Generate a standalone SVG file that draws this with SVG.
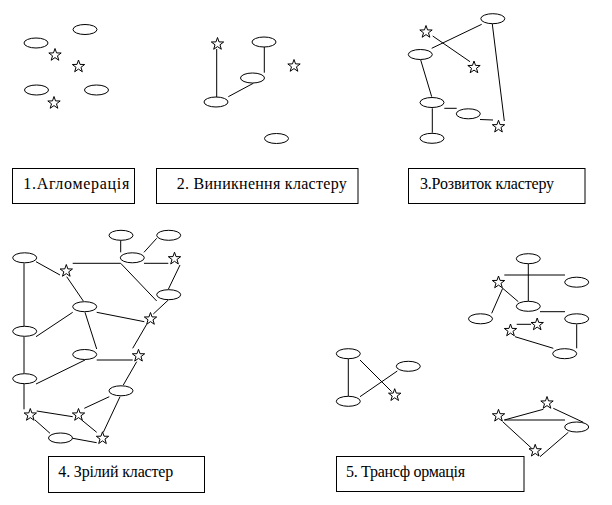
<svg xmlns="http://www.w3.org/2000/svg" xmlns:xlink="http://www.w3.org/1999/xlink" width="612" height="505" viewBox="0 0 612 505">
<style>
.e{fill:#fff;stroke:#000;stroke-width:1}
.s{fill:#fff;stroke:#000;stroke-width:1}
.c line{stroke:#000;stroke-width:1}
.b{fill:#fff;stroke:#000;stroke-width:1}
.t{font-family:'Liberation Serif','Times New Roman','DejaVu Serif',serif;font-size:16px;fill:#000}
</style>
<defs>
<path id="star" d="M0,-6.5 L1.53,-2.1 L6.18,-2.01 L2.47,0.8 L3.82,5.26 L0,2.6 L-3.82,5.26 L-2.47,0.8 L-6.18,-2.01 L-1.53,-2.1 Z"/>
</defs>
<rect width="612" height="505" fill="#fff"/>

<g id="connectors" class="c">
<line x1="216.7" y1="49" x2="216.7" y2="97"/>
<line x1="264.3" y1="47" x2="264.3" y2="72.7"/>
<line x1="228.3" y1="96.7" x2="253.3" y2="83.3"/>
<line x1="431.7" y1="48.3" x2="481.7" y2="24.3"/>
<line x1="432.7" y1="36" x2="470" y2="61.7"/>
<line x1="420.7" y1="60" x2="431.7" y2="96.7"/>
<line x1="432.3" y1="108.3" x2="432.3" y2="132.7"/>
<line x1="444.3" y1="108.3" x2="456.7" y2="108.3"/>
<line x1="480" y1="119.5" x2="493" y2="120"/>
<line x1="492.3" y1="24" x2="504.3" y2="121"/>
<line x1="120.7" y1="240.7" x2="120.7" y2="252.3"/>
<line x1="156.7" y1="238.3" x2="144" y2="252.3"/>
<line x1="72.7" y1="263.3" x2="120.7" y2="263.3"/>
<line x1="144" y1="263.3" x2="168.3" y2="263.3"/>
<line x1="36" y1="261.7" x2="60" y2="275"/>
<line x1="24" y1="263.3" x2="24" y2="326"/>
<line x1="120.7" y1="263.3" x2="156.7" y2="301"/>
<line x1="180" y1="265" x2="168.3" y2="289.3"/>
<line x1="66.7" y1="276.7" x2="83.3" y2="301"/>
<line x1="168.3" y1="300" x2="153.3" y2="314"/>
<line x1="72.7" y1="312.3" x2="36" y2="336.7"/>
<line x1="96.7" y1="312.3" x2="144.3" y2="321.7"/>
<line x1="85" y1="312.3" x2="96.7" y2="349"/>
<line x1="146.7" y1="324.3" x2="132.7" y2="348.3"/>
<line x1="24" y1="336.7" x2="24" y2="373.3"/>
<line x1="96.7" y1="360" x2="132.7" y2="360"/>
<line x1="85" y1="360" x2="36" y2="384"/>
<line x1="136.7" y1="361.7" x2="123.3" y2="385"/>
<line x1="24" y1="384" x2="24" y2="409.3"/>
<line x1="109.3" y1="396.7" x2="84.3" y2="408.3"/>
<line x1="120" y1="396.7" x2="103.3" y2="432.3"/>
<line x1="36.7" y1="411" x2="72.7" y2="416.7"/>
<line x1="35" y1="420" x2="50" y2="433.3"/>
<line x1="81.7" y1="420" x2="96.7" y2="432.3"/>
<line x1="72.7" y1="438.3" x2="96.7" y2="442.7"/>
<line x1="528.3" y1="264" x2="528.3" y2="301"/>
<line x1="504.3" y1="275" x2="565" y2="275"/>
<line x1="502.7" y1="288.3" x2="518.3" y2="301.7"/>
<line x1="502.7" y1="288.3" x2="491.7" y2="313.3"/>
<line x1="540" y1="311.7" x2="565" y2="311.7"/>
<line x1="516.7" y1="324.3" x2="531" y2="324.3"/>
<line x1="576.7" y1="324.3" x2="576.7" y2="348.3"/>
<line x1="515" y1="336.7" x2="553.3" y2="348.3"/>
<line x1="348.3" y1="359" x2="348.3" y2="396"/>
<line x1="360" y1="360" x2="391.7" y2="391.7"/>
<line x1="360" y1="396.7" x2="397.3" y2="371"/>
<line x1="504.3" y1="420" x2="543.3" y2="409.3"/>
<line x1="504.3" y1="420" x2="565" y2="420"/>
<line x1="553.3" y1="408.3" x2="583.3" y2="422.3"/>
<line x1="502.7" y1="421.7" x2="531.7" y2="448.3"/>
<line x1="568.3" y1="432.3" x2="540" y2="456.7"/>
</g>

<g id="p1e1"><ellipse class="e" cx="85" cy="29.5" rx="12" ry="5"/></g>
<g id="p1e2"><ellipse class="e" cx="36" cy="43" rx="12" ry="5"/></g>
<g id="p1s1"><use href="#star" xlink:href="#star" class="s" x="55" y="55"/></g>
<g id="p1s2"><use href="#star" xlink:href="#star" class="s" x="78.5" y="66.5"/></g>
<g id="p1e3"><ellipse class="e" cx="36.5" cy="90" rx="12" ry="5"/></g>
<g id="p1e4"><ellipse class="e" cx="96.5" cy="90" rx="12" ry="5"/></g>
<g id="p1s3"><use href="#star" xlink:href="#star" class="s" x="54" y="103"/></g>

<g id="p2s1"><use href="#star" xlink:href="#star" class="s" x="217.5" y="44"/></g>
<g id="p2e1"><ellipse class="e" cx="264" cy="42" rx="12" ry="5"/></g>
<g id="p2s2"><use href="#star" xlink:href="#star" class="s" x="294" y="66"/></g>
<g id="p2e2"><ellipse class="e" cx="252.5" cy="78" rx="12" ry="5"/></g>
<g id="p2e3"><ellipse class="e" cx="216" cy="102" rx="12" ry="5"/></g>
<g id="p2e4"><ellipse class="e" cx="276.5" cy="138.5" rx="12" ry="5"/></g>

<g id="p3e1"><ellipse class="e" cx="492.8" cy="18.7" rx="12" ry="5"/></g>
<g id="p3s1"><use href="#star" xlink:href="#star" class="s" x="426" y="32"/></g>
<g id="p3e2"><ellipse class="e" cx="420.3" cy="54.5" rx="12" ry="5"/></g>
<g id="p3s2"><use href="#star" xlink:href="#star" class="s" x="474" y="67.5"/></g>
<g id="p3e3"><ellipse class="e" cx="432" cy="102.5" rx="12" ry="5"/></g>
<g id="p3e4"><ellipse class="e" cx="468.3" cy="113.8" rx="12" ry="5"/></g>
<g id="p3s3"><use href="#star" xlink:href="#star" class="s" x="498.5" y="126.7"/></g>
<g id="p3e5"><ellipse class="e" cx="432" cy="138.3" rx="12" ry="5"/></g>

<g id="p4e1"><ellipse class="e" cx="121" cy="235.3" rx="12" ry="5"/></g>
<g id="p4e2"><ellipse class="e" cx="168.7" cy="235.3" rx="12" ry="5"/></g>
<g id="p4e3"><ellipse class="e" cx="132.3" cy="257.8" rx="12" ry="5"/></g>
<g id="p4e4"><ellipse class="e" cx="24.7" cy="257.8" rx="12" ry="5"/></g>
<g id="p4s1"><use href="#star" xlink:href="#star" class="s" x="66.3" y="271"/></g>
<g id="p4s2"><use href="#star" xlink:href="#star" class="s" x="174.5" y="258.7"/></g>
<g id="p4e5"><ellipse class="e" cx="168.7" cy="294.7" rx="12" ry="5"/></g>
<g id="p4e6"><ellipse class="e" cx="84.7" cy="306.7" rx="12" ry="5"/></g>
<g id="p4s3"><use href="#star" xlink:href="#star" class="s" x="150.5" y="319"/></g>
<g id="p4e7"><ellipse class="e" cx="24.7" cy="331.3" rx="12" ry="5"/></g>
<g id="p4e8"><ellipse class="e" cx="84.7" cy="354.5" rx="12" ry="5"/></g>
<g id="p4s4"><use href="#star" xlink:href="#star" class="s" x="138.5" y="355.8"/></g>
<g id="p4e9"><ellipse class="e" cx="24.7" cy="378.7" rx="12" ry="5"/></g>
<g id="p4e10"><ellipse class="e" cx="121" cy="390.8" rx="12" ry="5"/></g>
<g id="p4s5"><use href="#star" xlink:href="#star" class="s" x="30.3" y="415"/></g>
<g id="p4s6"><use href="#star" xlink:href="#star" class="s" x="78.5" y="415"/></g>
<g id="p4e11"><ellipse class="e" cx="60.5" cy="438" rx="12" ry="5"/></g>
<g id="p4s7"><use href="#star" xlink:href="#star" class="s" x="102.5" y="438.3"/></g>

<g id="p5e1"><ellipse class="e" cx="528.3" cy="258.7" rx="12" ry="5"/></g>
<g id="p5s1"><use href="#star" xlink:href="#star" class="s" x="498.5" y="282.5"/></g>
<g id="p5e2"><ellipse class="e" cx="576.7" cy="282.2" rx="12" ry="5"/></g>
<g id="p5e3"><ellipse class="e" cx="528.3" cy="306.3" rx="12" ry="5"/></g>
<g id="p5e4"><ellipse class="e" cx="480.5" cy="318.8" rx="12" ry="5"/></g>
<g id="p5e5"><ellipse class="e" cx="576.7" cy="318.8" rx="12" ry="5"/></g>
<g id="p5s2"><use href="#star" xlink:href="#star" class="s" x="510.5" y="330.5"/></g>
<g id="p5s3"><use href="#star" xlink:href="#star" class="s" x="537.2" y="324.5"/></g>
<g id="p5e6"><ellipse class="e" cx="564.7" cy="353.7" rx="12" ry="5"/></g>
<g id="p5e7"><ellipse class="e" cx="348.3" cy="353.7" rx="12" ry="5"/></g>
<g id="p5e8"><ellipse class="e" cx="408.3" cy="366.3" rx="12" ry="5"/></g>
<g id="p5e9"><ellipse class="e" cx="348.3" cy="401.3" rx="12" ry="5"/></g>
<g id="p5s4"><use href="#star" xlink:href="#star" class="s" x="394.7" y="395.2"/></g>
<g id="p5s5"><use href="#star" xlink:href="#star" class="s" x="498.5" y="415.8"/></g>
<g id="p5s6"><use href="#star" xlink:href="#star" class="s" x="547" y="403"/></g>
<g id="p5e10"><ellipse class="e" cx="576.7" cy="427" rx="12" ry="5"/></g>
<g id="p5s7"><use href="#star" xlink:href="#star" class="s" x="535.2" y="450.8"/></g>

<g id="label1"><rect class="b" x="12.5" y="168.5" width="122" height="35"/><text class="t" x="23.3" y="189.3" textLength="106" lengthAdjust="spacing">1.Агломерація</text></g>
<g id="label2"><rect class="b" x="156.5" y="168.5" width="201.5" height="35"/><text class="t" x="176.7" y="189.3" textLength="170" lengthAdjust="spacing">2. Виникнення кластеру</text></g>
<g id="label3"><rect class="b" x="408.5" y="168.5" width="176.5" height="35"/><text class="t" x="420" y="188.8" textLength="134" lengthAdjust="spacing">3.Розвиток кластеру</text></g>
<g id="label4"><rect class="b" x="48.5" y="456.5" width="156" height="36"/><text class="t" x="58.3" y="477" textLength="115" lengthAdjust="spacing">4. Зрілий кластер</text></g>
<g id="label5"><rect class="b" x="336.5" y="456.5" width="187.5" height="35"/><text class="t" x="346" y="477.3" textLength="119" lengthAdjust="spacing">5. Трансф ормація</text></g>
</svg>
